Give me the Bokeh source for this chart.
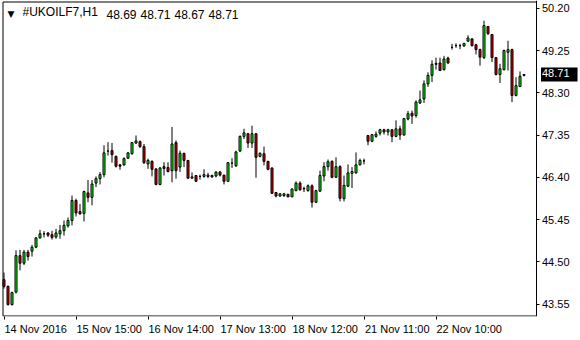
from bokeh.plotting import figure
from bokeh.models import (Range1d, FixedTicker, Label, PrintfTickFormatter, LinearAxis,
                          CustomLabelingPolicy)
from bokeh.embed import file_html
from bokeh.resources import INLINE

symbol = "#UKOILF7,H1"

opens = [44.10, 43.95, 43.54, 43.82, 44.64, 44.47, 44.72, 44.74, 44.83, 45.04,
         45.13, 45.15, 45.11, 45.06, 45.13, 45.20, 45.31, 45.43, 45.88, 45.63,
         45.59, 46.05, 45.95, 46.27, 46.37, 46.46, 46.99, 47.00, 46.87, 46.68,
         46.68, 46.83, 46.93, 47.17, 47.20, 47.09, 46.70, 46.76, 46.59, 46.24,
         46.64, 46.62, 46.55, 47.18, 46.63, 46.94, 46.78, 46.38, 46.44, 46.42,
         46.42, 46.42, 46.44, 46.43, 46.52, 46.45, 46.31, 46.72, 46.66, 46.99,
         47.32, 47.38, 47.17, 47.38, 46.87, 46.93, 46.76, 46.61, 46.06, 45.98,
         45.99, 46.02, 45.96, 46.10, 46.27, 46.14, 46.10, 46.21, 45.84, 46.09,
         46.43, 46.64, 46.76, 46.40, 46.64, 45.92, 46.20, 46.49, 46.50, 46.68,
         46.77, 47.34, 47.21, 47.32, 47.39, 47.47, 47.42, 47.47, 47.32, 47.49,
         47.35, 47.71, 47.84, 47.79, 48.07, 48.16, 48.50, 48.69, 48.94, 48.97,
         48.82, 49.08, 49.32, 49.36, 49.36, 49.35, 49.46, 49.51, 49.38, 49.27,
         49.09, 49.79, 49.61, 49.09, 48.71, 48.82, 49.21, 49.27, 48.24, 48.44,
         48.69]
highs = [44.26, 43.97, 43.83, 44.76, 44.77, 44.77, 44.77, 44.88, 45.05, 45.22,
         45.19, 45.16, 45.20, 45.24, 45.33, 45.43, 45.50, 45.99, 45.92, 45.80,
         46.10, 46.34, 46.34, 46.42, 46.52, 47.12, 47.19, 47.17, 46.89, 46.70,
         46.85, 46.96, 47.18, 47.34, 47.23, 47.15, 46.82, 46.78, 46.59, 46.63,
         46.74, 46.74, 47.53, 47.23, 47.00, 46.95, 46.78, 46.51, 46.44, 46.46,
         46.58, 46.50, 46.46, 46.53, 46.54, 46.45, 46.73, 46.83, 47.00, 47.34,
         47.49, 47.39, 47.56, 47.39, 46.96, 47.09, 46.76, 46.62, 46.07, 46.04,
         46.05, 46.02, 46.14, 46.31, 46.31, 46.19, 46.24, 46.24, 46.12, 46.55,
         46.74, 46.80, 46.78, 46.85, 46.67, 46.44, 46.69, 46.63, 46.96, 46.82,
         46.82, 47.34, 47.37, 47.43, 47.49, 47.49, 47.49, 47.47, 47.68, 47.56,
         47.73, 47.89, 47.90, 48.13, 48.35, 48.58, 48.76, 49.03, 49.09, 49.09,
         49.13, 49.11, 49.40, 49.41, 49.40, 49.42, 49.59, 49.53, 49.40, 49.29,
         49.92, 49.80, 49.62, 49.10, 48.95, 49.27, 49.47, 49.29, 48.65, 48.78,
         48.71]
lows = [43.90, 43.52, 43.52, 43.79, 44.31, 44.43, 44.53, 44.62, 44.81, 45.02,
        45.05, 45.06, 45.00, 45.02, 45.02, 45.09, 45.27, 45.32, 45.52, 45.56,
        45.41, 45.84, 45.77, 46.18, 46.24, 46.40, 46.89, 46.73, 46.62, 46.57,
        46.66, 46.82, 46.91, 47.15, 47.06, 46.70, 46.59, 46.42, 46.22, 46.22,
        46.44, 46.51, 46.29, 46.37, 46.52, 46.63, 46.37, 46.37, 46.31, 46.35,
        46.39, 46.38, 46.39, 46.40, 46.42, 46.24, 46.31, 46.61, 46.63, 46.97,
        47.26, 47.06, 47.06, 46.39, 46.85, 46.67, 46.56, 46.03, 45.95, 45.96,
        45.96, 45.96, 45.96, 46.09, 46.10, 46.07, 46.08, 45.72, 45.82, 46.07,
        46.31, 46.55, 46.38, 46.39, 45.86, 45.86, 46.18, 46.16, 46.48, 46.67,
        46.69, 47.12, 47.19, 47.29, 47.34, 47.36, 47.34, 47.19, 47.30, 47.24,
        47.34, 47.68, 47.60, 47.74, 48.05, 48.07, 48.43, 48.54, 48.82, 48.79,
        48.80, 48.95, 49.27, 49.31, 49.28, 49.34, 49.44, 49.34, 49.16, 48.91,
        49.06, 49.60, 48.99, 48.69, 48.52, 48.80, 48.80, 48.09, 48.22, 48.43,
        48.67]
closes = [43.95, 43.54, 43.81, 44.64, 44.47, 44.72, 44.62, 44.83, 45.04, 45.13,
          45.13, 45.10, 45.05, 45.15, 45.20, 45.32, 45.43, 45.88, 45.60, 45.58,
          46.08, 45.95, 46.25, 46.37, 46.46, 46.95, 46.99, 46.91, 46.65, 46.65,
          46.82, 46.95, 47.18, 47.22, 47.09, 46.73, 46.78, 46.58, 46.24, 46.61,
          46.60, 46.53, 47.15, 46.55, 46.94, 46.78, 46.38, 46.41, 46.31, 46.42,
          46.46, 46.45, 46.41, 46.52, 46.45, 46.31, 46.73, 46.72, 46.97, 47.32,
          47.40, 47.17, 47.38, 46.85, 46.94, 46.76, 46.58, 46.04, 45.98, 46.03,
          46.03, 45.96, 46.14, 46.27, 46.12, 46.15, 46.21, 45.84, 46.10, 46.44,
          46.64, 46.75, 46.40, 46.64, 45.93, 46.22, 46.50, 46.53, 46.68, 46.78,
          46.77, 47.21, 47.36, 47.37, 47.47, 47.42, 47.47, 47.32, 47.49, 47.35,
          47.72, 47.83, 47.78, 48.09, 48.14, 48.50, 48.69, 48.94, 48.96, 48.80,
          49.06, 48.97, 49.32, 49.36, 49.36, 49.41, 49.53, 49.36, 49.27, 49.10,
          49.81, 49.63, 49.09, 48.71, 48.84, 49.25, 49.27, 48.24, 48.46, 48.67,
          48.71]

x_tick_pos = [0, 18, 36, 54, 72, 90, 108]
x_tick_labels = ["14 Nov 2016", "15 Nov 15:00", "16 Nov 14:00", "17 Nov 13:00",
                 "18 Nov 12:00", "21 Nov 11:00", "22 Nov 10:00"]
y_ticks = [43.55, 44.50, 45.45, 46.40, 47.35, 48.30, 49.25, 50.20]

UP = "#00ff00"
DOWN = "#e00000"
FONT = "Liberation Sans"

W, H = 580, 340
FRAME_H = 316                    # plot frame spans the full width, 0..316 px tall
PX_PER_BAR = 4.0
X0 = -0.875                      # bar 0 centred at 3.5 px
X1 = X0 + W / PX_PER_BAR
Y0, Y1 = 43.2725, 50.3736

def px_x(px):                    # pixel column -> data x
    return X0 + px / PX_PER_BAR

def px_y(py):                    # pixel row (from top) -> data y
    return Y1 - py * (Y1 - Y0) / FRAME_H

idx = list(range(len(opens)))
tops = [max(o, c) for o, c in zip(opens, closes)]
bottoms = [min(o, c) for o, c in zip(opens, closes)]
colors = [UP if c >= o else DOWN for o, c in zip(opens, closes)]

p = figure(width=W, height=H, output_backend="svg", toolbar_location=None,
           x_range=Range1d(X0, X1), y_range=Range1d(Y0, Y1),
           y_axis_location="right",
           min_border_left=0, min_border_right=0, min_border_top=0,
           min_border_bottom=H - FRAME_H)
p.grid.visible = False
p.outline_line_color = None
p.background_fill_color = "white"
p.border_fill_color = "white"

# chart frame (left, top, bottom); the price axis forms the right edge
L, R, T, B = px_x(2.5), px_x(535.5), px_y(1.5), px_y(315.5)
p.segment(x0=[L, L, L], y0=[B, T, B], x1=[L, R, R], y1=[T, T, B],
          line_color="black", line_width=1)

p.segment(idx, lows, idx, highs, line_color="black", line_width=1)
p.vbar(x=idx, width=0.5, top=tops, bottom=bottoms, fill_color=colors,
       line_color="black", line_width=1)

# price axis drawn at the right edge of the chart area
ya = p.yaxis[0]
ya.fixed_location = R
ya.ticker = FixedTicker(ticks=y_ticks)
ya.formatter = PrintfTickFormatter(format="%.2f")
ya.major_label_standoff = 3
ya.major_label_text_font = FONT
ya.major_label_text_font_size = "11px"
ya.major_label_text_color = "black"
ya.major_tick_in = 0
ya.major_tick_out = 3
ya.minor_tick_line_color = None
ya.axis_line_color = "black"
ya.major_tick_line_color = "black"

# tick marks at the true date positions (labels suppressed)
xa = p.xaxis[0]
xa.ticker = FixedTicker(ticks=x_tick_pos)
xa.major_label_policy = CustomLabelingPolicy(
    code="const all = Array.from(indices); for (const i of all) indices.unset(i); return indices")
xa.major_label_text_font_size = "0px"
xa.major_label_standoff = 0
xa.major_tick_in = 0
xa.major_tick_out = 3
xa.minor_tick_line_color = None
xa.axis_line_color = None
xa.major_tick_line_color = "black"

# label-only axis: MT4 labels are left-aligned at their tick, so each label is
# centred half its text width to the right of the tick
CHAR_W = {"N": 0.722, "o": 0.556, "v": 0.5, " ": 0.278, ":": 0.278}
def text_w(s, size=11):
    return sum(CHAR_W.get(ch, 0.556) for ch in s) * size

centers = [round(pos + (text_w(lab) / 2 + 0.5) / PX_PER_BAR, 4)
           for pos, lab in zip(x_tick_pos, x_tick_labels)]
xl = LinearAxis(ticker=FixedTicker(ticks=centers),
                major_label_overrides={c: lab for c, lab in zip(centers, x_tick_labels)},
                major_tick_in=0, major_tick_out=0, major_tick_line_color=None,
                minor_tick_line_color=None, axis_line_color=None,
                major_label_standoff=3, major_label_text_font=FONT,
                major_label_text_font_size="11px", major_label_text_color="black")
p.add_layout(xl, "below")

# header
p.add_layout(Label(x=7, y=FRAME_H - 18, x_units="screen", y_units="screen", text="▼",
                   text_font="DejaVu Sans", text_font_size="9px", text_color="black"))
p.add_layout(Label(x=22, y=FRAME_H - 18.5, x_units="screen", y_units="screen", text=symbol,
                   text_font=FONT, text_font_size="12px", text_color="black"))
last = [opens[-1], highs[-1], lows[-1], closes[-1]]
for k, v in enumerate(last):
    p.add_layout(Label(x=106 + 34 * k, y=FRAME_H - 18.5, x_units="screen", y_units="screen",
                       text=f"{v:.2f}", text_font=FONT, text_font_size="12px",
                       text_color="black"))

# current price tag on the price axis
p.add_layout(Label(x=R, y=closes[-1], x_offset=5, text=f"{closes[-1]:.2f}",
                   text_font=FONT, text_font_size="11px", text_color="white",
                   text_baseline="middle", background_fill_color="black",
                   padding=(1, 8, 1, 5)))

open("out.html", "w").write(file_html(p, INLINE))
